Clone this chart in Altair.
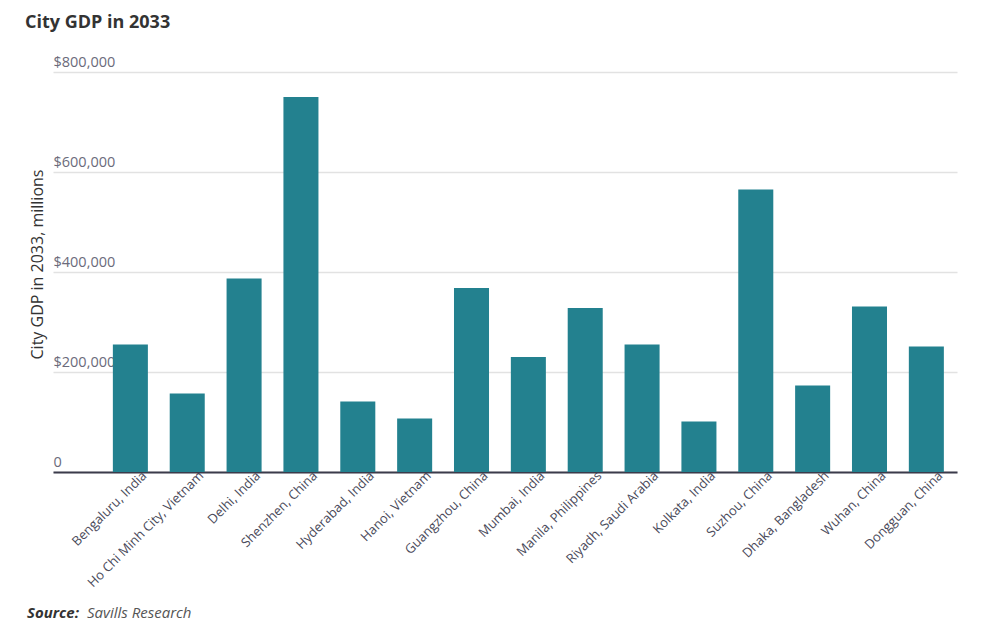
import altair as alt
import pandas as pd

cities = [
    "Bengaluru, India", "Ho Chi Minh City, Vietnam", "Delhi, India", "Shenzhen, China",
    "Hyderabad, India", "Hanoi, Vietnam", "Guangzhou, China", "Mumbai, India",
    "Manila, Philippines", "Riyadh, Saudi Arabia", "Kolkata, India", "Suzhou, China",
    "Dhaka, Bangladesh", "Wuhan, China", "Dongguan, China",
]
gdp = [255000, 157000, 387000, 750000, 141000, 107000, 368000, 230000,
       328000, 255000, 101000, 565000, 173000, 331000, 251000]
y_ticks = [0, 200000, 400000, 600000, 800000]
source_label = ["Source:"]
source_text = ["Savills Research"]

df = pd.DataFrame({"city": cities, "gdp": gdp})
FONT = "Open Sans"

bars = alt.Chart(df).mark_bar(color="#23818f").encode(
    x=alt.X(
        "city:N", sort=cities, title=None,
        scale=alt.Scale(paddingInner=0.384, paddingOuter=0.642, align=0.82),
        axis=alt.Axis(
            labelAngle=-45, labelFontSize=13, labelColor="#4a4a5a", labelFont=FONT,
            ticks=False, domainColor="#3b3b4b", domainWidth=2, labelPadding=-3,
            labelOffset=10, labelLimit=400, grid=False,
        ),
    ),
    y=alt.Y(
        "gdp:Q", title="City GDP in 2033, millions",
        scale=alt.Scale(domain=[0, 800000]),
        axis=alt.Axis(
            values=y_ticks,
            labelExpr="datum.value == 0 ? '0' : '$' + format(datum.value, ',')",
            domain=False, ticks=False, grid=True, gridColor="#e2e2e2", gridWidth=1.5,
            labelAlign="left", labelBaseline="bottom", labelPadding=0, labelOffset=-3,
            labelFont=FONT, labelFontSize=14.5, labelColor="#6b6b7b",
            titleFont=FONT, titleFontSize=16, titleFontWeight="normal", titleColor="#333333",
            titleX=-8, titleY=192, titleAngle=-90, titleAlign="center", titleBaseline="bottom",
        ),
    ),
)

src1 = alt.Chart(pd.DataFrame({"t": source_label})).mark_text(
    align="left", baseline="middle", font=FONT, fontSize=15, fontStyle="italic",
    fontWeight="bold", color="#333333",
).encode(x=alt.value(-26), y=alt.value(541), text="t:N")

src2 = alt.Chart(pd.DataFrame({"t": source_text})).mark_text(
    align="left", baseline="middle", font=FONT, fontSize=15, fontStyle="italic",
    color="#555555",
).encode(x=alt.value(34), y=alt.value(541), text="t:N")

chart = alt.layer(bars, src1, src2).properties(
    width=904, height=400,
    autosize="none",
    padding={"left": 45, "top": 64, "right": 35, "bottom": 150},
    title=alt.Title(
        "City GDP in 2033", anchor="start", frame="group", dx=-28, offset=22,
        fontSize=18, font=FONT, fontWeight="bold", color="#333333",
    ),
).configure_view(stroke=None)

chart.save("out.html", embed_options={"renderer": "svg", "actions": False})
